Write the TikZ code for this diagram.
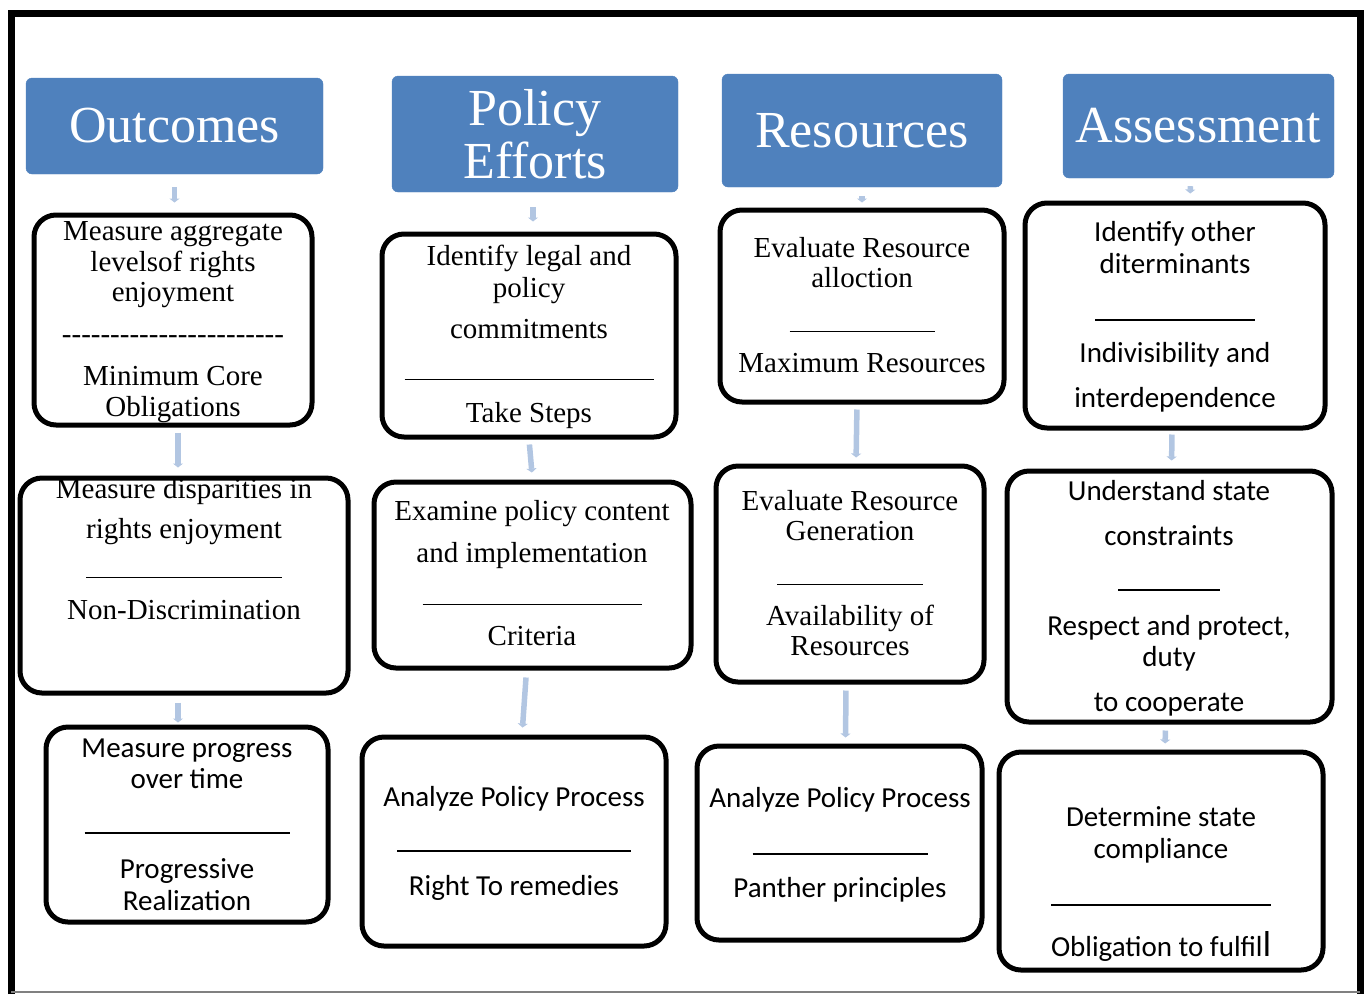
\documentclass[tikz,border=0pt]{standalone}
\usepackage{fontspec}
\setmainfont{Liberation Serif}
\newfontfamily\calibrifont{Carlito}
\usepackage{tikz}
\usetikzlibrary{arrows.meta}
\definecolor{headblue}{RGB}{79,129,189}
\definecolor{linkblue}{RGB}{178,198,226}
\newcommand{\serifsize}{\fontsize{29}{31}\selectfont}
\newcommand{\sanssize}{\calibrifont\fontsize{29}{32}\selectfont}
\newcommand{\hy}{\hbox{-}}
\newcommand{\hyfour}{\hy\hy\hy\hy}
\newcommand{\dashrow}{\hyfour\hyfour\hyfour\hyfour\hyfour\hy\hy\hy}
\newcommand{\divider}[1]{\rule[9pt]{#1pt}{1.2pt}}

\begin{document}
\begin{tikzpicture}[x=1pt,y=-1pt]
\tikzset{header/.style={fill=headblue, draw=headblue, rounded corners=6pt, text=white, align=center, font=\fontsize{52}{53}\selectfont},
  cell/.style={draw=black, line width=5pt, rounded corners=22pt, fill=white},
  serif text/.style={anchor=north, inner sep=0pt, align=center, font=\serifsize},
  sans text/.style={anchor=north, inner sep=0pt, align=center, font=\sanssize},
  link/.style={draw=linkblue, line width=5.5pt, -{Triangle[width=10pt,length=4pt]}}}
\useasboundingbox (0,0) rectangle (1367,994);
\draw[line width=7pt] (11,994) -- (11,13) -- (1360,13) -- (1360,994);
\draw[gray, line width=1.5pt] (11,992) -- (1360,992);

% headers
\node[header, minimum width=297pt, minimum height=96pt] (out) at (174.5,126) {Outcomes};
\node[header, minimum width=286pt, minimum height=116pt] (pol) at (535,134) {Policy\\Efforts};
\node[header, minimum width=280pt, minimum height=113pt] (res) at (862,130.5) {Resources};
\node[header, minimum width=271pt, minimum height=104pt] (ass) at (1198.5,126) {Assessment};

% first row
\node[cell, minimum width=278pt, minimum height=210pt] (a1) at (173,320) {};
\node[cell, minimum width=294pt, minimum height=203pt] (b1) at (529,335.5) {};
\node[cell, minimum width=284pt, minimum height=192pt] (c1) at (862,306) {};
\node[cell, minimum width=300pt, minimum height=225pt] (d1) at (1175,315.5) {};
% second row
\node[cell, minimum width=328pt, minimum height=215pt] (a2) at (184,585.5) {};
\node[cell, minimum width=317pt, minimum height=186pt] (b2) at (532.5,575) {};
\node[cell, minimum width=268pt, minimum height=216pt] (c2) at (850,574) {};
\node[cell, minimum width=325pt, minimum height=251pt] (d2) at (1169.5,596.5) {};
% third row
\node[cell, minimum width=282pt, minimum height=195pt] (a3) at (187,824.5) {};
\node[cell, minimum width=304pt, minimum height=209pt] (b3) at (514,841.5) {};
\node[cell, minimum width=285pt, minimum height=194pt] (c3) at (839.5,843) {};
\node[cell, minimum width=324pt, minimum height=218pt] (d3) at (1161,861) {};

% texts
\node[serif text] (a1t) at (173,219) {\strut Measure aggregate\\ levelsof rights\\[-1pt] enjoyment\\[11pt] \dashrow\\[11pt] Minimum Core\\ Obligations};
\node[serif text] (b1t) at (529,244) {\strut Identify legal and\\[1pt] policy\\[10pt] commitments\\[19pt] \divider{249}\\[3pt] Take Steps};
\node[serif text] (c1t) at (862,236) {\strut Evaluate Resource\\[-1pt] alloction\\[22pt] \divider{145}\\[1pt] Maximum Resources};
\node[sans text] (d1t) at (1175,219) {\strut Identify other\\ diterminants\\[24pt] \divider{160}\\[1pt] Indivisibility and\\[13pt] interdependence};
\node[serif text] (a2t) at (184,477) {\strut Measure disparities in\\[9pt] rights enjoyment\\[17pt] \divider{196}\\[2pt] Non-Discrimination};
\node[serif text] (b2t) at (532,499) {\strut Examine policy content\\[11pt] and implementation\\[20pt] \divider{219}\\[1pt] Criteria};
\node[serif text] (c2t) at (850,489) {\strut Evaluate Resource\\[-1pt] Generation\\[22pt] \divider{146}\\[1pt] Availability of\\[-1pt] Resources};
\node[sans text] (d2t) at (1169,478) {\strut Understand state\\[13pt] constraints\\[22pt] \divider{102}\\[4pt] Respect and protect,\\[-1pt] duty\\[13pt] to cooperate};
\node[sans text] (a3t) at (187,735) {\strut Measure progress\\[-1pt] over time\\[22pt] \divider{205}\\[4pt] Progressive\\ Realization};
\node[sans text] (b3t) at (514,784) {\strut Analyze Policy Process\\[22pt] \divider{234}\\[3pt] Right To remedies};
\node[sans text] (c3t) at (840,785) {\strut Analyze Policy Process\\[24pt] \divider{175}\\[2pt] Panther principles};
\node[sans text] (d3t) at (1161,804) {\strut Determine state\\ compliance\\[24pt] \divider{220}\\[10pt] Obligation to fulfil{\fontsize{36}{36}\selectfont l}};

% arrows
\draw[link, shorten <=13pt, shorten >=10pt] (out.south) -- (out.south |- a1.north);
\draw[link, shorten <=15pt, shorten >=10pt] ([xshift=-2pt]pol.south) -- ([xshift=4pt]b1.north);
\draw[link, shorten <=9pt, shorten >=5pt] (res.south) -- (c1.north);
\draw[link, shorten <=8pt, shorten >=7pt] ([xshift=-8pt]ass.south) -- ([xshift=15pt]d1.north);
\draw[link, shorten <=5pt, shorten >=8pt] ([xshift=5pt]a1.south) -- ([xshift=-6pt]a2.north);
\draw[link, shorten <=5pt, shorten >=7pt] (b1.south) -- (b2.north);
\draw[link, shorten <=5pt, shorten >=6pt] ([xshift=-5pt]c1.south) -- ([xshift=6pt]c2.north);
\draw[link, shorten <=4pt, shorten >=8pt] ([xshift=-3pt]d1.south) -- ([xshift=2pt]d2.north);
\draw[link, shorten <=7pt, shorten >=2pt] ([xshift=-6pt]a2.south) -- ([xshift=-9pt]a3.north);
\draw[link, shorten <=7pt, shorten >=7pt] ([xshift=-6pt]b2.south) -- ([xshift=8pt]b3.north);
\draw[link, shorten <=6pt, shorten >=6pt] ([xshift=-4pt]c2.south) -- ([xshift=6pt]c3.north);
\draw[link, shorten <=6pt, shorten >=6pt] ([xshift=-4pt]d2.south) -- ([xshift=4pt]d3.north);
\end{tikzpicture}
\end{document}
